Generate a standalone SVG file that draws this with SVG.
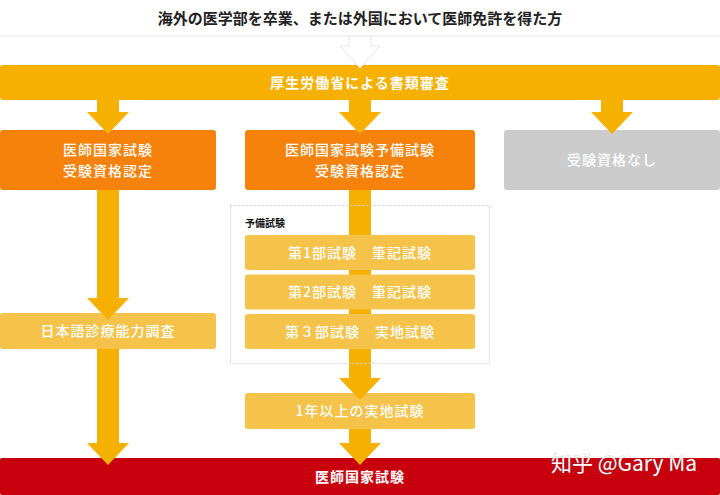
<svg xmlns="http://www.w3.org/2000/svg" width="720" height="495" viewBox="0 0 720 495">
<style>
text{font-family:"Noto Sans CJK JP","Noto Sans",sans-serif;text-anchor:middle;}
.w{fill:#ffffff;font-size:14px;font-weight:bold;letter-spacing:1px;}
.wm{fill:#ffffff;font-size:14px;font-weight:500;letter-spacing:1px;}
.arr{fill:#F5B000;}
</style>
<rect width="720" height="495" fill="#ffffff"/>
<g id="header">
<text x="360" y="24" style="font-size:15px;font-weight:bold;fill:#222;letter-spacing:0">海外の医学部を卒業、または外国において医師免許を得た方</text>
<line x1="0" y1="36" x2="720" y2="36" stroke="#f0f0f0" stroke-width="1.5"/>
</g>
<g id="review">
<rect x="0" y="65" width="720" height="35" rx="3" fill="#F5B000"/>
<text class="w" x="360" y="88">厚生労働省による書類審査</text>
</g>
<path id="entry-arrow" d="M349,36 H371 V46 H380 L360,68 L340,46 H349 Z" fill="#ffffff" stroke="#e6e6e6" stroke-width="1"/>
<g id="qual-exam">
<rect x="0" y="130" width="216" height="60" rx="3" fill="#F7820B"/>
<text class="wm" x="108" y="155">医師国家試験</text>
<text class="wm" x="108" y="176">受験資格認定</text>
</g>
<g id="qual-prelim">
<rect x="245" y="130" width="230" height="60" rx="3" fill="#F7820B"/>
<text class="wm" x="360" y="155">医師国家試験予備試験</text>
<text class="wm" x="360" y="176">受験資格認定</text>
</g>
<g id="no-qual">
<rect x="504" y="130" width="216" height="60" rx="3" fill="#CCCCCC"/>
<text class="wm" x="612" y="165">受験資格なし</text>
</g>
<g id="japanese">
<rect x="0" y="313" width="216" height="36" rx="3" fill="#F5C24A"/>
<text class="wm" x="108" y="336">日本語診療能力調査</text>
</g>
<g id="practical">
<rect x="245" y="393" width="230" height="36" rx="3" fill="#F5C24A"/>
<text class="wm" x="360" y="416">1年以上の実地試験</text>
</g>
<g id="national-exam">
<rect x="0" y="458" width="720" height="37" rx="2" fill="#C8000E"/>
<text class="w" x="360" y="482">医師国家試験</text>
</g>
<g id="connectors">
<path class="arr" d="M97,100 H119 V112 H129 L108,134 L87,112 H97 Z"/>
<path class="arr" d="M349,100 H371 V112 H381 L360,134 L339,112 H349 Z"/>
<path class="arr" d="M601,100 H623 V112 H633 L612,134 L591,112 H601 Z"/>
<path class="arr" d="M97,190 H119 V298 H129 L108,320 L87,298 H97 Z"/>
<path class="arr" d="M97,349 H119 V443 H129 L108,465 L87,443 H97 Z"/>
<path class="arr" d="M349,190 H371 V378 H381 L360,400 L339,378 H349 Z"/>
<path class="arr" d="M349,429 H371 V443 H381 L360,465 L339,443 H349 Z"/>
</g>
<g id="prelim-exam">
<rect x="230.5" y="205.5" width="259" height="158" fill="none" stroke="#d0d0d0" stroke-width="1" stroke-dasharray="2,2"/>
<text x="245" y="227" style="text-anchor:start;font-size:10px;font-weight:bold;fill:#111">予備試験</text>
</g>
<g id="part1">
<rect x="245" y="235" width="230" height="35" rx="3" fill="#F5C24A"/>
<text class="wm" x="360" y="257.5">第1部試験　筆記試験</text>
</g>
<g id="part2">
<rect x="245" y="274.5" width="230" height="35" rx="3" fill="#F5C24A"/>
<text class="wm" x="360" y="297">第2部試験　筆記試験</text>
</g>
<g id="part3">
<rect x="245" y="314" width="230" height="35" rx="3" fill="#F5C24A"/>
<text class="wm" x="360" y="336.5">第３部試験　実地試験</text>
</g>
<text x="624" y="471" style="font-family:'Noto Sans CJK SC','Noto Sans',sans-serif;font-size:21px;fill:#ffffff;stroke:#555;stroke-width:0.6px;stroke-opacity:0.5;paint-order:stroke">知乎 @Gary Ma</text>
</svg>
